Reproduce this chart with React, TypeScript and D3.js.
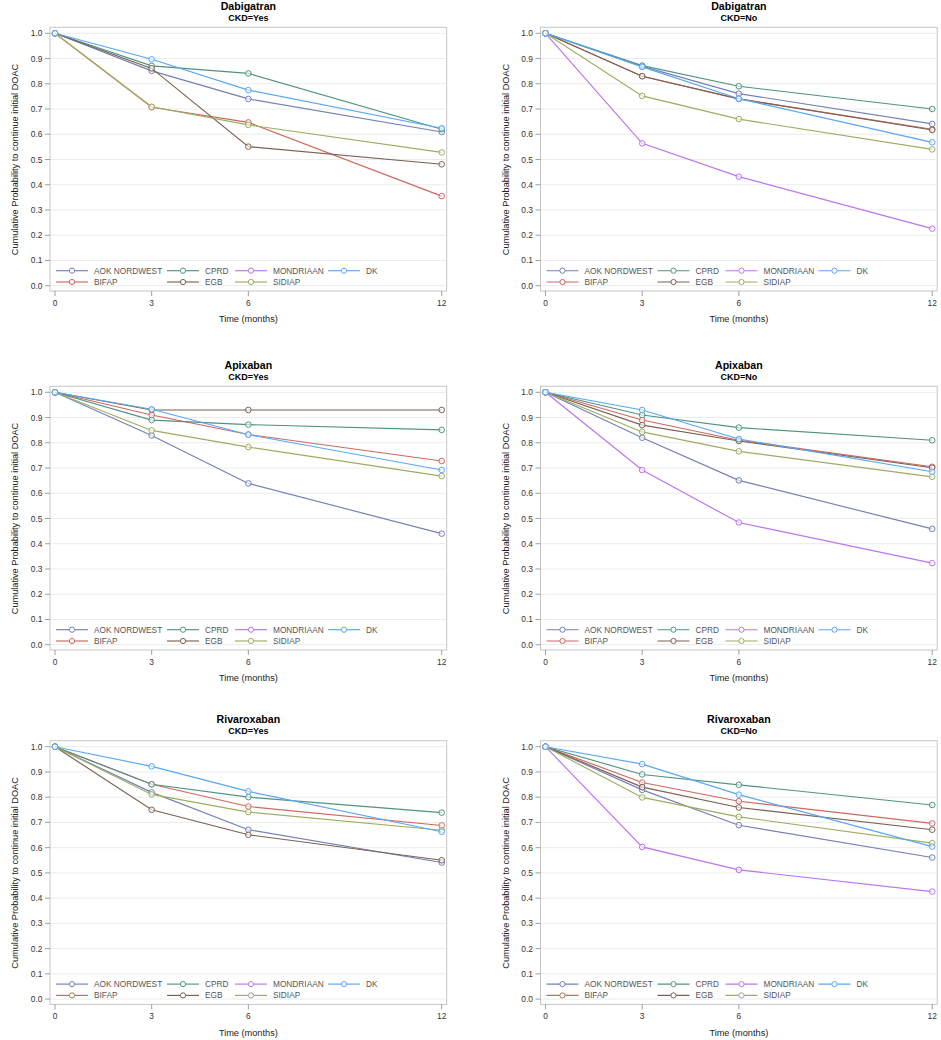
import * as d3 from "d3";

// time points (months)
const months = [0, 3, 6, 12];
const yTicks = [0, 0.1, 0.2, 0.3, 0.4, 0.5, 0.6, 0.7, 0.8, 0.9, 1.0];

const seriesNames = ["AOK NORDWEST", "BIFAP", "CPRD", "EGB", "MONDRIAAN", "SIDIAP", "DK"];
const seriesColors = ["#7380b6", "#cf6760", "#4f9382", "#7c6150", "#bb74ee", "#9cae5e", "#58a7f5"];

// values per panel, rows follow seriesNames (null = no data)
const dabigatranYes = [
  [1, 0.851, 0.74, 0.609],
  [1, 0.707, 0.647, 0.355],
  [1, 0.871, 0.841, 0.62],
  [1, 0.861, 0.551, 0.481],
  null,
  [1, 0.709, 0.637, 0.528],
  [1, 0.897, 0.775, 0.624],
];
const dabigatranNo = [
  [1, 0.869, 0.761, 0.641],
  [1, 0.83, 0.74, 0.62],
  [1, 0.872, 0.79, 0.7],
  [1, 0.83, 0.74, 0.617],
  [1, 0.564, 0.432, 0.226],
  [1, 0.752, 0.66, 0.54],
  [1, 0.867, 0.741, 0.568],
];
const apixabanYes = [
  [1, 0.829, 0.639, 0.44],
  [1, 0.91, 0.833, 0.728],
  [1, 0.89, 0.872, 0.851],
  [1, 0.93, 0.93, 0.93],
  null,
  [1, 0.849, 0.783, 0.668],
  [1, 0.933, 0.832, 0.692],
];
const apixabanNo = [
  [1, 0.82, 0.651, 0.459],
  [1, 0.89, 0.81, 0.705],
  [1, 0.91, 0.86, 0.81],
  [1, 0.87, 0.807, 0.701],
  [1, 0.692, 0.484, 0.323],
  [1, 0.843, 0.766, 0.665],
  [1, 0.93, 0.815, 0.685],
];
const rivaroxabanYes = [
  [1, 0.819, 0.671, 0.541],
  [1, 0.851, 0.763, 0.688],
  [1, 0.851, 0.8, 0.739],
  [1, 0.75, 0.651, 0.55],
  null,
  [1, 0.811, 0.741, 0.669],
  [1, 0.922, 0.823, 0.663],
];
const rivaroxabanNo = [
  [1, 0.829, 0.689, 0.561],
  [1, 0.858, 0.784, 0.696],
  [1, 0.89, 0.849, 0.769],
  [1, 0.84, 0.759, 0.671],
  [1, 0.603, 0.512, 0.426],
  [1, 0.799, 0.722, 0.618],
  [1, 0.931, 0.81, 0.604],
];

const panels = [
  { drug: "Dabigatran", ckd: "CKD=Yes", values: dabigatranYes, col: 0, row: 0 },
  { drug: "Dabigatran", ckd: "CKD=No", values: dabigatranNo, col: 1, row: 0 },
  { drug: "Apixaban", ckd: "CKD=Yes", values: apixabanYes, col: 0, row: 1 },
  { drug: "Apixaban", ckd: "CKD=No", values: apixabanNo, col: 1, row: 1 },
  { drug: "Rivaroxaban", ckd: "CKD=Yes", values: rivaroxabanYes, col: 0, row: 2 },
  { drug: "Rivaroxaban", ckd: "CKD=No", values: rivaroxabanNo, col: 1, row: 2 },
];

const colOffsets = [0, 490.5];
const rowOffsets = [0, 359, 713.4];
const font = "'Liberation Sans', Arial, sans-serif";

// legend layout: column-major, 2 rows
const legendColX = [56, 167, 235, 328];
const legendRowY = [270.7, 282];

function Panel({ drug, ckd, values, col, row }: any) {
  const ox = colOffsets[col];
  const oy = rowOffsets[row];
  const frame = { left: 50, top: 27.3, right: 446.7, bottom: 291 };

  const x = d3.scaleLinear().domain([0, 12]).range([55, 441.7]);
  const y = d3.scaleLinear().domain([0, 1]).range([285.7, 33.3]);

  const line = d3
    .line<number>()
    .x((_, i) => x(months[i]))
    .y((d) => y(d));

  const cx = (frame.left + frame.right) / 2;

  return (
    <g transform={`translate(${ox},${oy})`} fontFamily={font}>
      <text x={cx} y={9.8} textAnchor="middle" fontSize={10.6} fontWeight="bold" fill="#000">
        {drug}
      </text>
      <text x={cx} y={21} textAnchor="middle" fontSize={9} fontWeight="bold" fill="#000">
        {ckd}
      </text>

      {yTicks.map((t) => (
        <line key={"g" + t} x1={frame.left} x2={frame.right} y1={y(t)} y2={y(t)} stroke="#ececec" strokeWidth={1} />
      ))}

      <rect
        x={frame.left}
        y={frame.top}
        width={frame.right - frame.left}
        height={frame.bottom - frame.top}
        fill="none"
        stroke="#c6c6c6"
        strokeWidth={1}
      />

      {yTicks.map((t) => (
        <g key={"yt" + t}>
          <line x1={frame.left - 5} x2={frame.left} y1={y(t)} y2={y(t)} stroke="#888" strokeWidth={0.8} />
          <text x={42.5} y={y(t) + 3} textAnchor="end" fontSize={8.4} fill="#333">
            {d3.format(".1f")(t)}
          </text>
        </g>
      ))}

      {months.map((m) => (
        <g key={"xt" + m}>
          <line x1={x(m)} x2={x(m)} y1={frame.bottom} y2={frame.bottom + 5} stroke="#888" strokeWidth={0.8} />
          <text x={x(m)} y={306} textAnchor="middle" fontSize={8.4} fill="#333">
            {m}
          </text>
        </g>
      ))}

      <text x={cx} y={322.3} textAnchor="middle" fontSize={9.2} fill="#222">
        Time (months)
      </text>
      <text
        transform={`translate(18.3,159.5) rotate(-90)`}
        textAnchor="middle"
        fontSize={9.2}
        fill="#222"
      >
        Cumulative Probability to continue initial DOAC
      </text>

      {values.map((v: number[] | null, i: number) =>
        v ? (
          <g key={"s" + i}>
            <path d={line(v) || ""} fill="none" stroke={seriesColors[i]} strokeWidth={1.15} />
            {v.map((d, j) => (
              <circle
                key={j}
                cx={x(months[j])}
                cy={y(d)}
                r={2.8}
                fill="#fff"
                fillOpacity={0.6}
                stroke={seriesColors[i]}
                strokeWidth={1}
              />
            ))}
          </g>
        ) : null
      )}

      {seriesNames.map((name, i) => {
        const lx = legendColX[Math.floor(i / 2)];
        const ly = legendRowY[i % 2];
        return (
          <g key={"l" + i}>
            <line x1={lx} x2={lx + 32} y1={ly} y2={ly} stroke={seriesColors[i]} strokeWidth={1.15} />
            <circle cx={lx + 16} cy={ly} r={2.6} fill="#fff" stroke={seriesColors[i]} strokeWidth={1} />
            <text x={lx + 38} y={ly + 3} fontSize={8.3} fill="#555">
              {name}
            </text>
          </g>
        );
      })}
    </g>
  );
}

export default function App() {
  return (
    <svg
      width={941}
      height={1040}
      style={{ position: "absolute", left: 0, top: 0, background: "#fff" }}
    >
      <rect width={941} height={1040} fill="#fff" />
      {panels.map((p, i) => (
        <Panel key={i} {...p} />
      ))}
    </svg>
  );
}
